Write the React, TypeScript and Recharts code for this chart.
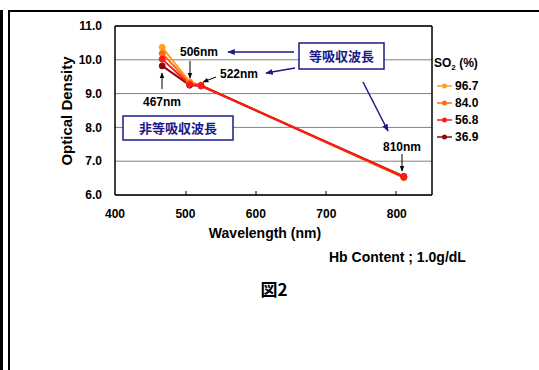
import { CartesianGrid, Line, LineChart, ReferenceLine, XAxis, YAxis } from 'recharts'

// wavelengths measured (nm) and optical density per SO2 level
const wavelengths = [467, 506, 522, 810]
const so2Labels = ['96.7', '84.0', '56.8', '36.9']
const od967 = [10.37, 9.35, 9.25, 6.51]
const od840 = [10.19, 9.31, 9.24, 6.52]
const od568 = [10.02, 9.27, 9.23, 6.54]
const od369 = [9.82, 9.25, 9.23, 6.55]
const xTicks = [400, 500, 600, 700, 800]
const yTicks = [6, 7, 8, 9, 10, 11]

const colors = ['#ffa020', '#ff6a10', '#ff1a1a', '#8b0a0a']
const seriesKeys = ['s967', 's840', 's568', 's369']
// paint order: red on top, like the source
const drawOrder = [0, 1, 3, 2]

const data = wavelengths.map((wl, i) => ({
  wl,
  s967: od967[i],
  s840: od840[i],
  s568: od568[i],
  s369: od369[i],
}))

const FONT = '"Liberation Sans", Arial, sans-serif'
const JP = '"Noto Sans CJK JP", sans-serif'
const NAVY = '#1a1a8a'

const tickStyle = { fontSize: 12, fontWeight: 700, fill: '#000', fontFamily: FONT }

function Overlay() {
  return (
    <svg width={539} height={370} style={{ position: 'absolute', left: 0, top: 0, pointerEvents: 'none' }}>
      <defs>
        <marker id="headK" viewBox="0 0 10 10" refX="9" refY="5" markerWidth="6" markerHeight="6" orient="auto">
          <path d="M0,1 L10,5 L0,9 z" fill="#000" />
        </marker>
        <marker id="headN" viewBox="0 0 10 10" refX="9" refY="5" markerWidth="5" markerHeight="5" orient="auto">
          <path d="M0,1 L10,5 L0,9 z" fill={NAVY} />
        </marker>
      </defs>

      {/* outer frame */}
      <rect x={0} y={10} width={3} height={360} fill="#000" />
      <line x1={9} y1={11} x2={539} y2={11} stroke="#000" strokeWidth={2} />
      <line x1={9} y1={10} x2={9} y2={370} stroke="#000" strokeWidth={2} />

      {/* y axis title */}
      <text x={67} y={111} transform="rotate(-90 67 111)" textAnchor="middle" dy="0.35em"
        fontFamily={FONT} fontWeight={700} fontSize={15}>Optical Density</text>

      {/* inside tick marks on x axis */}
      <g stroke="#000" strokeWidth={1}>
        {[186, 256, 326, 396].map((x) => (
          <line key={x} x1={x} y1={195} x2={x} y2={191} />
        ))}
      </g>

      {/* wavelength annotations */}
      <g fontFamily={FONT} fontWeight={700} fontSize={12}>
        <text x={180} y={56}>506nm</text>
        <text x={220} y={78}>522nm</text>
        <text x={143} y={106}>467nm</text>
        <text x={383} y={151}>810nm</text>
      </g>
      <g stroke="#000" strokeWidth={1}>
        <line x1={190} y1={61} x2={190} y2={78} markerEnd="url(#headK)" />
        <line x1={216} y1={77} x2={203} y2={82} markerEnd="url(#headK)" />
        <line x1={162} y1={89} x2={162} y2={73} markerEnd="url(#headK)" />
        <line x1={402} y1={154} x2={402} y2={171} markerEnd="url(#headK)" />
      </g>

      {/* isosbestic boxes */}
      <rect x={299} y={43} width={85} height={26} fill="#fff" stroke={NAVY} strokeWidth={1.5} />
      <text x={341.5} y={61} textAnchor="middle" fontFamily={JP} fontWeight={700} fontSize={13} fill={NAVY}>等吸収波長</text>
      <rect x={123} y={116} width={110} height={24} fill="#fff" stroke={NAVY} strokeWidth={1.5} />
      <text x={178} y={133} textAnchor="middle" fontFamily={JP} fontWeight={700} fontSize={13} fill={NAVY}>非等吸収波長</text>
      <g stroke={NAVY} strokeWidth={1.5}>
        <line x1={294} y1={52} x2={228} y2={52} markerEnd="url(#headN)" />
        <line x1={295} y1={68} x2={266} y2={73} markerEnd="url(#headN)" />
        <line x1={363} y1={82} x2={388} y2={131} markerEnd="url(#headN)" />
      </g>

      {/* legend */}
      <text x={434} y={67} fontFamily={FONT} fontWeight={700} fontSize={12}>
        SO<tspan fontSize={8} dy={3}>2</tspan><tspan dy={-3}> (%)</tspan>
      </text>
      {so2Labels.map((lab, i) => {
        const cy = 86 + i * 17
        return (
          <g key={lab}>
            <line x1={437} y1={cy} x2={452} y2={cy} stroke={colors[i]} strokeWidth={1.5} />
            <circle cx={444.5} cy={cy} r={2.5} fill={colors[i]} />
            <text x={455} y={cy + 4.3} fontFamily={FONT} fontWeight={700} fontSize={12}>{lab}</text>
          </g>
        )
      })}

      {/* bottom texts */}
      <text x={265} y={238} textAnchor="middle" fontFamily={FONT} fontWeight={700} fontSize={14}>Wavelength (nm)</text>
      <text x={329} y={262} fontFamily={FONT} fontWeight={700} fontSize={14}>Hb Content ; 1.0g/dL</text>
      <text x={274} y={296} textAnchor="middle" fontFamily={JP} fontWeight={700} fontSize={17}>図2</text>
    </svg>
  )
}

export default function App() {
  return (
    <div style={{ position: 'absolute', left: 0, top: 0, width: 539, height: 370, background: '#fff' }}>
      <LineChart width={539} height={370} data={data} margin={{ top: 26, right: 107, bottom: 145, left: 75 }}>
        <CartesianGrid vertical={false} stroke="#808080" strokeWidth={1} />
        <XAxis
          type="number"
          dataKey="wl"
          domain={[400, 850]}
          ticks={xTicks}
          height={30}
          tick={tickStyle}
          tickLine={false}
          tickSize={6}
          tickMargin={8}
          axisLine={{ stroke: '#000', strokeWidth: 1.5 }}
        />
        <YAxis
          type="number"
          domain={[6, 11]}
          ticks={yTicks}
          width={40}
          tick={tickStyle}
          tickLine={false}
          tickSize={6}
          tickMargin={7}
          tickFormatter={(v: number) => v.toFixed(1)}
          axisLine={{ stroke: '#000', strokeWidth: 1.5 }}
        />
        <ReferenceLine y={11} stroke="#000" strokeWidth={1.5} />
        <ReferenceLine x={850} stroke="#000" strokeWidth={1.5} />
        {drawOrder.map((i) => (
          <Line
            key={seriesKeys[i]}
            dataKey={seriesKeys[i]}
            stroke={colors[i]}
            strokeWidth={2}
            dot={{ r: 3, fill: colors[i], stroke: colors[i], strokeWidth: 1 }}
            isAnimationActive={false}
          />
        ))}
      </LineChart>
      <Overlay />
    </div>
  )
}
